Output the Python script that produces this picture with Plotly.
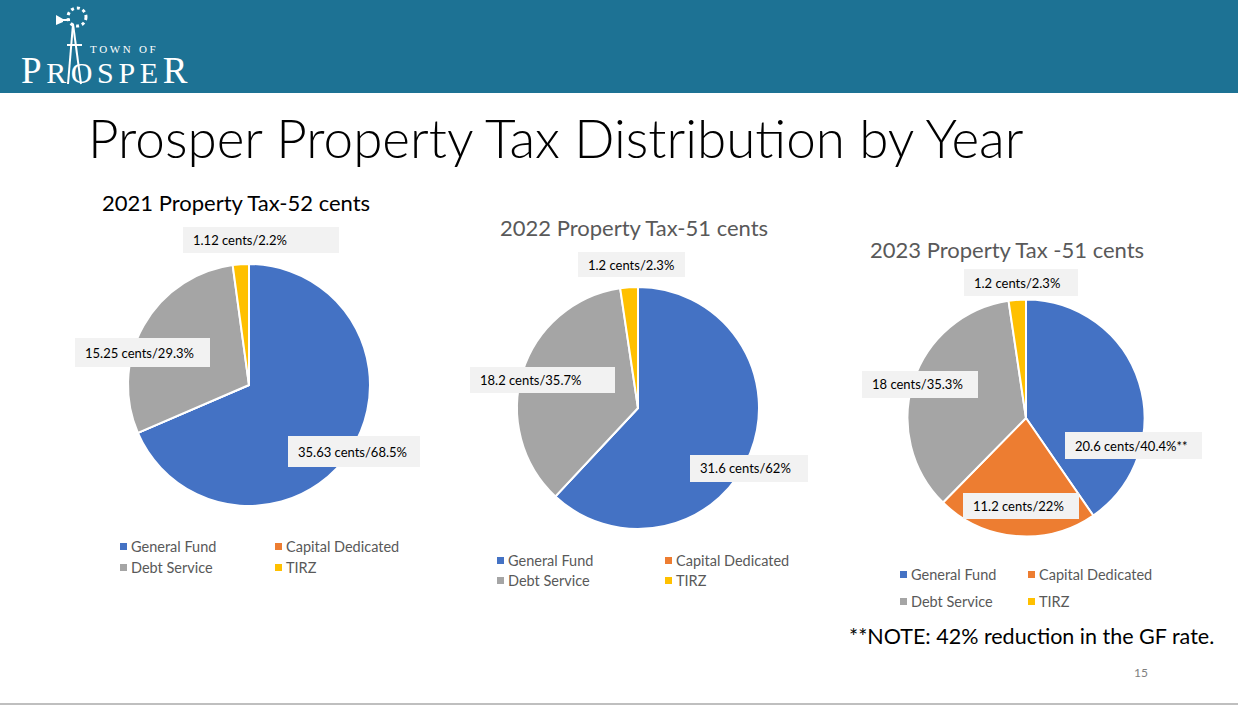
import plotly.graph_objects as go

W, H = 1238, 707

categories = ["General Fund", "Capital Dedicated", "Debt Service", "TIRZ"]
colors = ["#4472C4", "#ED7D31", "#A5A5A5", "#FFC000"]

values_2021 = [35.63, 0, 15.25, 1.12]
values_2022 = [31.6, 0, 18.2, 1.2]
values_2023 = [20.6, 11.2, 18.0, 1.2]

labels_2021 = ["35.63 cents/68.5%", None, "15.25 cents/29.3%", "1.12 cents/2.2%"]
labels_2022 = ["31.6 cents/62%", None, "18.2 cents/35.7%", "1.2 cents/2.3%"]
labels_2023 = ["20.6 cents/40.4%**", "11.2 cents/22%", "18 cents/35.3%", "1.2 cents/2.3%"]

titles = ["2021 Property Tax-52 cents", "2022 Property Tax-51 cents", "2023 Property Tax -51 cents"]


def X(px):
    return px / W


def Y(py):
    return 1 - py / H


FONT = "Lato"

fig = go.Figure()

# pies: (cx, cy, r)
pie_geo = [(249, 385, 121), (638, 408, 121), (1026, 418, 118.5)]
all_values = [values_2021, values_2022, values_2023]
for (cx, cy, r), vals in zip(pie_geo, all_values):
    fig.add_trace(go.Pie(
        labels=categories, values=vals, sort=False, direction="clockwise", rotation=0,
        marker=dict(colors=colors, line=dict(color="white", width=2)),
        textinfo="none", hoverinfo="label+value", showlegend=False,
        domain=dict(x=[X(cx - r), X(cx + r)], y=[Y(cy + r), Y(cy - r)]),
    ))

shapes = []
annotations = []

# header band
shapes.append(dict(type="rect", xref="paper", yref="paper", x0=0, x1=1, y0=Y(93), y1=1,
                   fillcolor="#1D7294", line=dict(width=0), layer="below"))
# bottom line
shapes.append(dict(type="line", xref="paper", yref="paper", x0=0, x1=1, y0=Y(704), y1=Y(704),
                   line=dict(color="#BFBFBF", width=2)))

# simple windmill in logo
wl = dict(color="white", width=2)
for (x0, y0, x1, y1) in [(73, 24, 68, 84), (73, 24, 81, 84), (67, 45, 82, 45), (58, 20, 70, 20)]:
    shapes.append(dict(type="line", xref="paper", yref="paper", x0=X(x0), y0=Y(y0), x1=X(x1), y1=Y(y1), line=wl))
shapes.append(dict(type="circle", xref="paper", yref="paper", x0=X(68), x1=X(86), y0=Y(26), y1=Y(8),
                   line=dict(color="white", width=3, dash="dot")))
shapes.append(dict(type="path", xref="paper", yref="paper",
                   path=f"M {X(56)} {Y(15)} L {X(63)} {Y(19)} L {X(63)} {Y(22)} L {X(56)} {Y(25)} Z",
                   fillcolor="white", line=dict(width=0)))

# logo text: one annotation, two lines
ts = "\u2009"
logo_text = ("\u00a0" * 12 + "<span style='font-size:11px'>T O W N &nbsp; O F</span><br>"
             + "<span style='font-size:37px'>P</span>" + ts
             + ts.join("<span style='font-size:30px'>" + c + "</span>" for c in "ROSPE") + ts
             + "<span style='font-size:37px'>R</span>")
annotations.append(dict(x=X(20), y=Y(92), xref="paper", yref="paper", xanchor="left", yanchor="bottom",
                        text=logo_text, showarrow=False, borderpad=0, align="left",
                        font=dict(family="Liberation Serif", size=23, color="white")))

# main title
annotations.append(dict(x=X(86), y=Y(137), xref="paper", yref="paper", xanchor="left", yanchor="middle",
                        text="Prosper Property Tax Distribution by Year", showarrow=False,
                        font=dict(family=FONT, size=53, color="#000000", weight=300)))

# subtitles
sub_pos = [(100, 202, "#000000"), (498, 227, "#595959"), (868, 249, "#595959")]
for t, (x, y, c) in zip(titles, sub_pos):
    annotations.append(dict(x=X(x), y=Y(y), xref="paper", yref="paper", xanchor="left", yanchor="middle",
                            text=t, showarrow=False, font=dict(family=FONT, size=22, color=c)))

# data labels: boxes (x0, x1, y0, y1)
boxes = [
    [(288, 420, 436, 467), None, (75, 210, 338, 367), (183, 339, 227, 253)],
    [(690, 808, 455, 482), None, (470, 615, 367, 393), (578, 685, 252, 277)],
    [(1065, 1202, 432, 459), (963, 1079, 493, 519), (862, 978, 371, 398), (964, 1078, 269, 296)],
]
all_labels = [labels_2021, labels_2022, labels_2023]
for lbls, bxs in zip(all_labels, boxes):
    for lab, b in zip(lbls, bxs):
        if lab is None:
            continue
        x0, x1, y0, y1 = b
        shapes.append(dict(type="rect", xref="paper", yref="paper", x0=X(x0), x1=X(x1), y0=Y(y1), y1=Y(y0),
                           fillcolor="#F2F2F2", line=dict(width=0)))
        annotations.append(dict(x=X(x0 + 8), y=Y((y0 + y1) / 2), xref="paper", yref="paper",
                                xanchor="left", yanchor="middle", text=lab, showarrow=False,
                                font=dict(family=FONT, size=13, color="#000000")))

# legends: (x col1 square, x col2 square, y row1, y row2)
leg_pos = [(120, 275, 546, 567), (497, 665, 560, 580), (900, 1028, 574, 601)]
for (xa, xb, ya, yb) in leg_pos:
    spots = [(xa, ya), (xb, ya), (xa, yb), (xb, yb)]
    for cat, col, (sx, sy) in zip(categories, colors, spots):
        shapes.append(dict(type="rect", xref="paper", yref="paper", x0=X(sx), x1=X(sx + 7),
                           y0=Y(sy + 4), y1=Y(sy - 3), fillcolor=col, line=dict(width=0)))
        annotations.append(dict(x=X(sx + 9), y=Y(sy), xref="paper", yref="paper", xanchor="left",
                                yanchor="middle", text=cat, showarrow=False,
                                font=dict(family=FONT, size=14.5, color="#595959")))

# note and page number
annotations.append(dict(x=X(847), y=Y(636), xref="paper", yref="paper", xanchor="left", yanchor="middle",
                        text="**NOTE: 42% reduction in the GF rate.", showarrow=False,
                        font=dict(family=FONT, size=21.5, color="#000000")))
annotations.append(dict(x=X(1141), y=Y(672), xref="paper", yref="paper", xanchor="center", yanchor="middle",
                        text="15", showarrow=False, font=dict(family=FONT, size=12, color="#7F7F7F")))

fig.update_layout(
    width=W, height=H, margin=dict(l=0, r=0, t=0, b=0),
    paper_bgcolor="white", plot_bgcolor="white",
    shapes=shapes, annotations=annotations, showlegend=False,
)

fig.write_html("out.html", config={"displayModeBar": False},
               post_script="document.body.style.margin='0';document.body.style.overflow='hidden';")
